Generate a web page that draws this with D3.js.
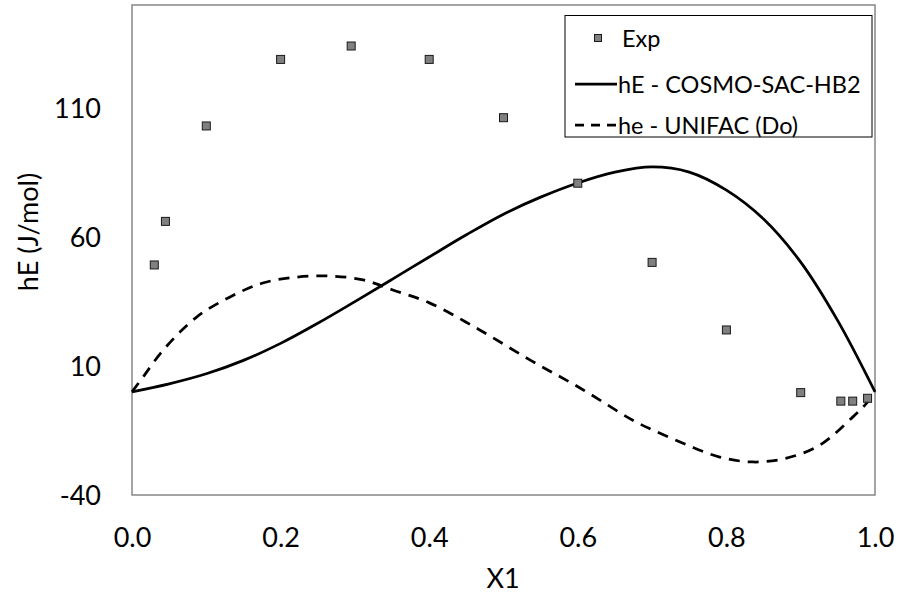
<!DOCTYPE html>
<html>
<head>
<meta charset="utf-8">
<script src="https://cdn.jsdelivr.net/npm/d3@7"></script>
<style>
  html, body { margin: 0; padding: 0; background: #fff; }
  svg text { font-family: Lato, "Open Sans", sans-serif; fill: #000; }
</style>
</head>
<body>
<svg id="chart" width="901" height="598"></svg>
<script>
// Experimental excess enthalpy points
const expX = [0.03, 0.045, 0.1, 0.2, 0.295, 0.4, 0.5, 0.6, 0.7, 0.8, 0.9, 0.954, 0.97, 0.99];
const expY = [49.2, 66.1, 103.1, 128.9, 134.1, 128.9, 106.3, 80.9, 50.2, 24.0, -0.3, -3.6, -3.6, -2.5];

// hE - COSMO-SAC-HB2 model curve
const cosmoX = [0, 0.05, 0.10, 0.15, 0.20, 0.25, 0.30, 0.35, 0.40, 0.45, 0.50, 0.55, 0.60, 0.65, 0.70, 0.75, 0.80, 0.85, 0.90, 0.95, 1.0];
const cosmoY = [0, 3.1, 7.0, 12.2, 18.8, 26.6, 35.0, 43.6, 52.3, 60.9, 68.9, 75.5, 81.0, 85.2, 87.2, 85.2, 78.2, 67.0, 50.3, 27.5, 0];

// he - UNIFAC (Do) model curve
const unifacX = [0, 0.015, 0.042, 0.087, 0.132, 0.176, 0.222, 0.266, 0.311, 0.351, 0.401, 0.468, 0.536, 0.603, 0.674, 0.701, 0.747, 0.791, 0.836, 0.881, 0.926, 0.970, 0.989, 1.0];
const unifacY = [0, 5.8, 16.2, 29.0, 36.8, 42.2, 44.5, 44.9, 43.4, 39.5, 34.4, 24.0, 12.3, 1.5, -11.0, -14.8, -20.6, -25.3, -27.2, -25.7, -20.6, -9.8, -4.3, 0];

// Axis ticks
const xTicks = [0.0, 0.2, 0.4, 0.6, 0.8, 1.0];
const yTicks = [-40, 10, 60, 110];

const legendLabels = ["Exp", "hE - COSMO-SAC-HB2", "he - UNIFAC (Do)"];

const svg = d3.select("#chart");
const plot = { left: 132, top: 5, right: 875, bottom: 495 };

const x = d3.scaleLinear().domain([0, 1]).range([plot.left, plot.right]);
const y = d3.scaleLinear().domain([-40, 150]).range([plot.bottom, plot.top]);

svg.append("rect").attr("width", 901).attr("height", 598).attr("fill", "#fff");

// Axes (labels only, no tick marks)
const xAxis = d3.axisBottom(x).tickValues(xTicks).tickFormat(d3.format(".1f")).tickSize(0).tickPadding(0);
const gx = svg.append("g").attr("transform", `translate(0,${plot.bottom})`).call(xAxis);
gx.select(".domain").remove();
gx.selectAll("text").attr("font-size", 27).attr("dy", null).attr("y", 52);

const yAxis = d3.axisLeft(y).tickValues(yTicks).tickFormat(d => String(d)).tickSize(0).tickPadding(0);
const gy = svg.append("g").attr("transform", `translate(${plot.left},0)`).call(yAxis);
gy.select(".domain").remove();
gy.selectAll("text").attr("font-size", 27).attr("x", -31).attr("dy", "0.36em");

// Plot frame
svg.append("rect")
  .attr("x", plot.left).attr("y", plot.top)
  .attr("width", plot.right - plot.left).attr("height", plot.bottom - plot.top)
  .attr("fill", "none").attr("stroke", "#868686").attr("stroke-width", 1.5);

// Model curves
const line = d3.line().x(d => x(d[0])).y(d => y(d[1])).curve(d3.curveCatmullRom.alpha(0.5));

svg.append("path")
  .datum(cosmoX.map((v, i) => [v, cosmoY[i]]))
  .attr("d", line).attr("fill", "none").attr("stroke", "#000").attr("stroke-width", 2.75);

svg.append("path")
  .datum(unifacX.map((v, i) => [v, unifacY[i]]))
  .attr("d", line).attr("fill", "none").attr("stroke", "#000").attr("stroke-width", 2.75)
  .attr("stroke-dasharray", "11,8");

// Experimental markers
const ms = 8;
svg.append("g").selectAll("rect")
  .data(expX.map((v, i) => [v, expY[i]]))
  .join("rect")
  .attr("x", d => x(d[0]) - ms / 2).attr("y", d => y(d[1]) - ms / 2)
  .attr("width", ms).attr("height", ms)
  .attr("fill", "#808080").attr("stroke", "#1a1a1a").attr("stroke-width", 1);

// Axis titles
svg.append("text").attr("x", (plot.left + plot.right) / 2 - 0.5).attr("y", 588)
  .attr("text-anchor", "middle").attr("font-size", 27).text("X1");
svg.append("text").attr("transform", "translate(27,232) rotate(-90)")
  .attr("text-anchor", "middle").attr("dominant-baseline", "central")
  .attr("font-size", 27).text("hE (J/mol)");

// Legend
const lg = svg.append("g");
lg.append("rect").attr("x", 565).attr("y", 15.5).attr("width", 307).attr("height", 121.5)
  .attr("fill", "#fff").attr("stroke", "#000").attr("stroke-width", 1);
const rowY = [38, 84, 125];
lg.append("rect").attr("x", 598 - 3.5).attr("y", rowY[0] - 3.5).attr("width", 7).attr("height", 7)
  .attr("fill", "#808080").attr("stroke", "#1a1a1a").attr("stroke-width", 1);
lg.append("line").attr("x1", 575).attr("x2", 617).attr("y1", rowY[1]).attr("y2", rowY[1])
  .attr("stroke", "#000").attr("stroke-width", 2.75);
lg.append("line").attr("x1", 575).attr("x2", 617).attr("y1", rowY[2]).attr("y2", rowY[2])
  .attr("stroke", "#000").attr("stroke-width", 2.75).attr("stroke-dasharray", "9,7");
lg.selectAll("text.lab").data(legendLabels).join("text")
  .attr("class", "lab")
  .attr("x", (d, i) => i === 0 ? 622 : 618)
  .attr("y", (d, i) => rowY[i])
  .attr("dominant-baseline", "central")
  .attr("font-size", 23.5)
  .text(d => d);
</script>
</body>
</html>
